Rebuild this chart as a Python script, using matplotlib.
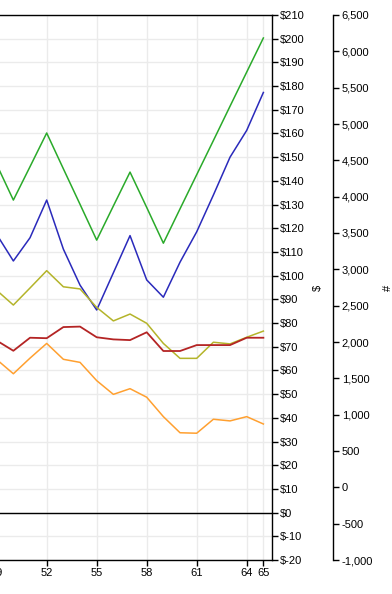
import matplotlib
matplotlib.use("Agg")
import matplotlib.pyplot as plt
from matplotlib.ticker import FuncFormatter

plt.rcParams['font.family'] = ['Liberation Sans', 'DejaVu Sans']

x_vals = list(range(49, 66))
green = [146.9, 131.9, 146.0, 160.2, 145.1, 130.1, 115.0, 129.4, 143.7, 128.8, 113.7,
         128.2, 142.6, 157.0, 171.5, 185.9, 200.3]
blue = [117.4, 106.2, 116.0, 131.9, 111.2, 96.0, 85.5, 101.2, 116.9, 98.2, 90.9,
        105.7, 118.5, 134.0, 150.0, 161.3, 177.3]
olive = [93.8, 87.6, 94.8, 102.1, 95.3, 94.4, 86.6, 80.9, 83.8, 79.9, 71.4,
         65.1, 65.1, 71.9, 71.2, 74.0, 76.6]
red = [72.6, 68.3, 73.8, 73.6, 78.3, 78.5, 74.0, 73.1, 72.8, 76.1, 68.2,
       68.2, 70.7, 70.7, 70.7, 73.8, 73.8]
orange = [64.6, 58.6, 65.2, 71.4, 64.7, 63.4, 55.7, 49.9, 52.3, 48.7, 40.5,
          33.7, 33.5, 39.4, 38.7, 40.5, 37.4]

x_ticks = [49, 52, 55, 58, 61, 64, 65]
dollar_ticks = list(range(-20, 211, 10))
count_ticks = list(range(-1000, 6501, 500))

W, H = 392, 594
fig = plt.figure(figsize=(W / 100, H / 100), dpi=100)
x0, x1 = 46, 65.5
right_px, top_px, bot_px = 271.7, 15, 560
px_per_unit = 16.667
left_px = right_px - (x1 - x0) * px_per_unit
ax = fig.add_axes([left_px / W, 1 - bot_px / H, (right_px - left_px) / W, (bot_px - top_px) / H])
ax2 = ax.twinx()

ax.set_xlim(x0, x1)
ax.set_ylim(-20, 210)

ax.plot(x_vals, green, color='#2aaa2a', lw=1.1)
ax.plot(x_vals, blue, color='#2a2abb', lw=1.1)
ax.plot(x_vals, olive, color='#b4b42a', lw=1.1)
ax.plot(x_vals, red, color='#b42424', lw=1.3)
ax.plot(x_vals, orange, color='#ffa030', lw=1.1)
ax.axhline(0, color='black', lw=1)

ax.set_xticks(x_ticks)
ax.set_xticklabels([str(t) for t in x_ticks])
ax.set_yticks(dollar_ticks)
ax.yaxis.set_major_formatter(FuncFormatter(lambda v, p: f"${int(round(v))}"))
ax.grid(True, color='#ebebeb', lw=1)
ax.set_axisbelow(True)
ax.spines['left'].set_visible(False)
for s in ['top', 'bottom', 'right']:
    ax.spines[s].set_color('black')
    ax.spines[s].set_linewidth(1)
ax.tick_params(axis='both', direction='out', length=4, width=1, labelsize=8, pad=2, colors='black')
ax.yaxis.tick_right()
ax.tick_params(axis='y', left=False, right=True, labelleft=False, labelright=True)
ax.yaxis.set_label_position('right')
ax.set_ylabel('$', fontsize=8, labelpad=6)

ax2.set_ylim(-1000, 6500)
ax2.set_yticks(count_ticks)
ax2.yaxis.set_major_formatter(FuncFormatter(lambda v, p: f"{int(round(v)):,}"))
ax2.spines['right'].set_position(('outward', (333.3 - right_px) * 0.72))
for s in ['left', 'top', 'bottom']:
    ax2.spines[s].set_visible(False)
ax2.spines['right'].set_linewidth(1)
ax2.tick_params(axis='y', direction='out', length=4, width=1, labelsize=8, pad=2)
ax2.set_ylabel('#', fontsize=8, labelpad=7)

fig.savefig('out.png', dpi=100)
